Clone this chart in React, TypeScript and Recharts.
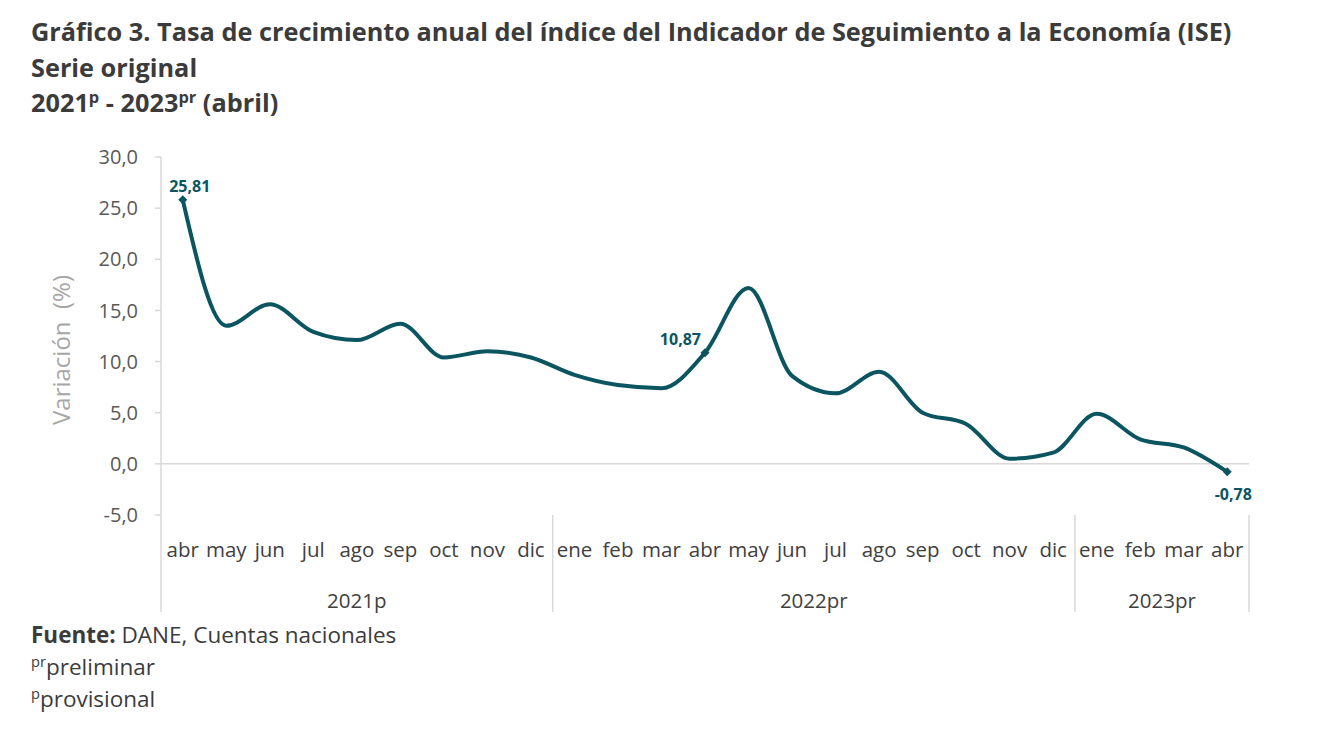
import React from 'react';
import { LineChart, Line, XAxis, YAxis, ReferenceLine, LabelList, Label } from 'recharts';

// meses abr 2021 - abr 2023
const months = [
  'abr', 'may', 'jun', 'jul', 'ago', 'sep', 'oct', 'nov', 'dic',
  'ene', 'feb', 'mar', 'abr', 'may', 'jun', 'jul', 'ago', 'sep', 'oct', 'nov', 'dic',
  'ene', 'feb', 'mar', 'abr',
];
const values = [
  25.81, 13.5, 15.6, 12.9, 12.1, 13.7, 10.4, 11.0, 10.4,
  8.7, 7.7, 7.4, 10.87, 17.2, 8.6, 6.9, 9.0, 5.0, 3.9, 0.5, 1.1,
  4.9, 2.4, 1.6, -0.78,
];
const yearGroups = [
  { label: '2021p', start: 0, end: 8 },
  { label: '2022pr', start: 9, end: 20 },
  { label: '2023pr', start: 21, end: 24 },
];
const labeledPoints = [0, 12, 24];
const yTicks = [-5, 0, 5, 10, 15, 20, 25, 30];

const data = months.map((m, i) => ({ idx: i, month: m, value: values[i] }));

const W = 1324;
const H = 741;
const LEFT = 161;
const RIGHT = 75;
const BAND = (W - LEFT - RIGHT) / months.length;
const TEAL = '#0b5560';
const FONT = '"Open Sans", sans-serif';

const fmt = (v: number, d: number) => v.toFixed(d).replace('.', ',');

const MonthTick = (props: any) => {
  const { x, y, payload } = props;
  const i = payload.index;
  const group = yearGroups.find(g => g.start === i);
  const center = yearGroups.find(g => (g.start + g.end) / 2 === i || (g.start + g.end - 1) / 2 === i);
  const last = i === months.length - 1;
  return (
    <g>
      <text x={x} y={y + 42} textAnchor="middle" fontSize={20.5} fill="#404040" fontFamily={FONT}>
        {months[i]}
      </text>
      {group && <line x1={x - BAND / 2} x2={x - BAND / 2} y1={y} y2={y + 97} stroke="#d9d9d9" strokeWidth={1.5} />}
      {last && <line x1={x + BAND / 2} x2={x + BAND / 2} y1={y} y2={y + 97} stroke="#d9d9d9" strokeWidth={1.5} />}
      {center && (
        <text
          x={(center.start + center.end) / 2 === i ? x : x + BAND / 2}
          y={y + 93}
          textAnchor="middle"
          fontSize={20.5}
          fill="#404040"
          fontFamily={FONT}
        >
          {center.label}
        </text>
      )}
    </g>
  );
};

const Diamond = (props: any) => {
  const { cx, cy, index } = props;
  if (!labeledPoints.includes(index)) return <g key={index} />;
  const s = 4.5;
  return (
    <path
      key={index}
      d={`M${cx},${cy - s} L${cx + s},${cy} L${cx},${cy + s} L${cx - s},${cy} Z`}
      fill={TEAL}
    />
  );
};

const PointLabel = (props: any) => {
  const { x, y, index, value } = props;
  if (!labeledPoints.includes(index)) return null;
  let dx = 7;
  let dy = -8;
  let anchor: 'start' | 'middle' | 'end' = 'middle';
  if (index === 12) { dx = -4; dy = -8; anchor = 'end'; }
  if (index === 24) { dx = 6; dy = 28; }
  return (
    <text x={x + dx} y={y + dy} textAnchor={anchor} fontSize={16} fontWeight={700} fill={TEAL} fontFamily={FONT}>
      {fmt(value, 2)}
    </text>
  );
};

const supStyle: React.CSSProperties = { fontSize: '0.65em', verticalAlign: '0.55em', lineHeight: 0 };

export default function App() {
  return (
    <div style={{ position: 'absolute', left: 0, top: 0, width: W, height: H, background: '#fff', fontFamily: FONT }}>
      <div style={{ position: 'absolute', left: 31, top: 14, fontSize: 25.3, fontWeight: 700, color: '#3b3b3b', lineHeight: '35.5px', whiteSpace: 'nowrap' }}>
        <div>Gráfico 3. Tasa de crecimiento anual del índice del Indicador de Seguimiento a la Economía (ISE)</div>
        <div>Serie original</div>
        <div>
          2021<span style={supStyle}>p</span> - 2023<span style={supStyle}>pr</span> (abril)
        </div>
      </div>

      <LineChart
        width={W}
        height={H}
        data={data}
        margin={{ top: 157, right: RIGHT, bottom: 116, left: 0 }}
        style={{ position: 'absolute', left: 0, top: 0 }}
      >
        <YAxis
          width={LEFT}
          domain={[-5, 30]}
          ticks={yTicks}
          interval={0}
          tickFormatter={(v: number) => fmt(v, 1)}
          tick={{ fontSize: 20, fill: '#595959', fontFamily: FONT }}
          tickSize={6}
          tickMargin={17}
          axisLine={{ stroke: '#d9d9d9', strokeWidth: 1.5 }}
          tickLine={{ stroke: '#d9d9d9', strokeWidth: 1.5 }}
        >
          <Label
            content={({ viewBox }: any) => {
              const cx = viewBox.x + 60;
              const cy = viewBox.y + viewBox.height / 2 + 14;
              return (
                <text
                  x={cx}
                  y={cy}
                  transform={`rotate(-90, ${cx}, ${cy})`}
                  textAnchor="middle"
                  dominantBaseline="central"
                  fontSize={24}
                  fill="#a6a6a6"
                  fontFamily={FONT}
                  style={{ whiteSpace: 'pre' }}
                >
                  {'Variación  (%)'}
                </text>
              );
            }}
          />
        </YAxis>
        <XAxis
          dataKey="idx"
          type="category"
          scale="band"
          interval={0}
          height={110}
          tickSize={0}
          tickMargin={0}
          axisLine={false}
          tickLine={false}
          tick={<MonthTick />}
        />
        <ReferenceLine y={0} stroke="#d9d9d9" strokeWidth={1.5} />
        <Line
          type="monotone"
          dataKey="value"
          stroke={TEAL}
          strokeWidth={4}
          dot={<Diamond />}
          activeDot={false}
          isAnimationActive={false}
        >
          <LabelList dataKey="value" content={<PointLabel />} />
        </Line>
      </LineChart>

      <div style={{ position: 'absolute', left: 31, top: 619, fontSize: 22.5, color: '#3b3b3b', lineHeight: '32px', whiteSpace: 'nowrap' }}>
        <div><b>Fuente:</b> DANE, Cuentas nacionales</div>
        <div><span style={supStyle}>pr</span>preliminar</div>
        <div><span style={supStyle}>p</span>provisional</div>
      </div>
    </div>
  );
}
